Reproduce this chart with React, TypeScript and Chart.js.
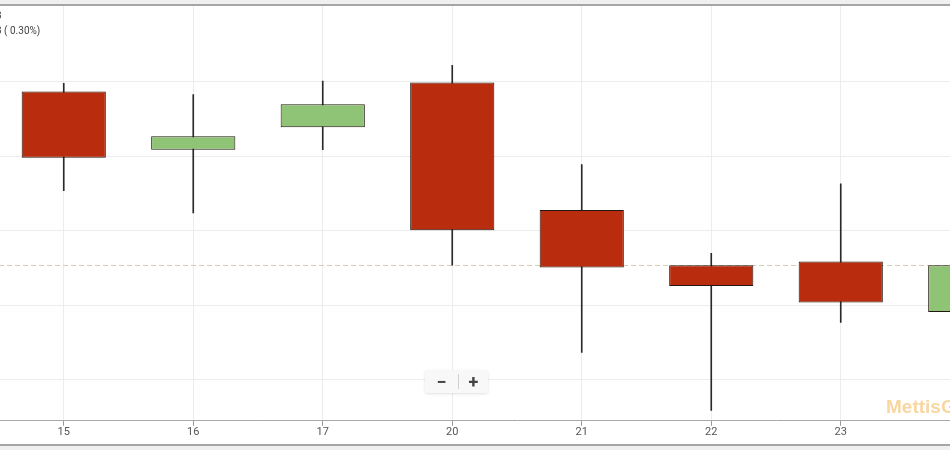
import React, { useEffect, useRef } from "react";
import { Chart, registerables } from "chart.js";

Chart.register(...registerables);

// Trading days shown on the x axis (last one is only partly visible)
const labels = ["15", "16", "17", "20", "21", "22", "23", "24"];
const opens = [13.87, 13.09, 13.39, 13.99, 12.28, 11.54, 11.59, 10.91];
const closes = [12.98, 13.27, 13.7, 12.01, 11.51, 11.26, 11.04, 11.54];
const highs = [13.98, 13.83, 14.01, 14.22, 12.89, 11.7, 12.63, 11.62];
const lows = [12.54, 12.24, 13.09, 11.54, 10.37, 9.59, 10.77, 10.8];
const yTicks = [10, 11, 12, 13, 14];
const lastPrice = 11.54;
const yMin = 9.4515;
const yMax = 15.0175;

const RED = "#b92c0d";
const GREEN = "#8fc477";
const EDGE = "#22160f";

const priceLine = {
  id: "priceLine",
  beforeDatasetsDraw(chart: any) {
    const { ctx, chartArea, scales } = chart;
    const y = Math.round(scales.y.getPixelForValue(lastPrice)) + 0.5;
    ctx.save();
    ctx.strokeStyle = "#dacfb6";
    ctx.lineWidth = 1;
    ctx.setLineDash([5, 3]);
    ctx.beginPath();
    ctx.moveTo(chartArea.left, y);
    ctx.lineTo(chartArea.right, y);
    ctx.stroke();
    ctx.restore();
  },
};

export default function App() {
  const canvasRef = useRef<HTMLCanvasElement | null>(null);

  useEffect(() => {
    if (!canvasRef.current) return;
    const colors = opens.map((o, i) => (closes[i] >= o ? GREEN : RED));
    const chart = new Chart(canvasRef.current, {
      type: "bar",
      data: {
        labels,
        datasets: [
          {
            label: "body",
            data: opens.map((o, i) => [o, closes[i]]) as any,
            backgroundColor: colors,
            borderColor: EDGE,
            borderWidth: 1,
            borderSkipped: false,
            barPercentage: 0.65,
            categoryPercentage: 1,
            grouped: false,
            order: 1,
          } as any,
          {
            label: "wick",
            data: lows.map((l, i) => [l, highs[i]]) as any,
            backgroundColor: "#2a2a2a",
            borderWidth: 0,
            barThickness: 1,
            grouped: false,
            order: 2,
          } as any,
        ],
      },
      options: {
        animation: false,
        responsive: true,
        maintainAspectRatio: false,
        layout: { padding: 0 },
        plugins: {
          legend: { display: false },
          tooltip: { enabled: false },
        },
        scales: {
          x: {
            grid: {
              offset: false,
              color: "#ececec",
              tickColor: "#9a9a9a",
              tickLength: 5,
            },
            border: { color: "#a8a8a8", width: 1 },
            ticks: {
              color: "#555",
              font: { family: "Roboto", size: 11 },
              padding: 0,
            },
          },
          y: {
            min: yMin,
            max: yMax,
            afterBuildTicks: (scale: any) => {
              scale.ticks = yTicks.map((v) => ({ value: v }));
            },
            grid: { color: "#ececec", drawTicks: false },
            border: { display: false },
            ticks: { display: false },
          },
        },
      },
      plugins: [priceLine],
    });
    return () => chart.destroy();
  }, []);

  return (
    <div
      style={{
        position: "absolute",
        left: 0,
        top: 0,
        width: 950,
        height: 450,
        overflow: "hidden",
        background: "#fff",
        fontFamily: "Roboto, sans-serif",
      }}
    >
      <div style={{ position: "absolute", left: 0, top: 0, width: 950, height: 4, background: "#f0f0f0" }} />
      <div style={{ position: "absolute", left: 0, top: 4, width: 950, height: 2, background: "#a6a6a6" }} />
      <div style={{ position: "absolute", left: -1, top: 6, width: 1036, height: 433 }}>
        <canvas ref={canvasRef} />
      </div>
      <div style={{ position: "absolute", left: 0, top: 444, width: 950, height: 2, background: "#a6a6a6" }} />
      <div style={{ position: "absolute", left: 0, top: 446, width: 950, height: 4, background: "#f0f0f0" }} />

      <div style={{ position: "absolute", left: -4, top: 10, fontSize: 10, color: "#444", whiteSpace: "nowrap" }}>3</div>
      <div style={{ position: "absolute", left: -4, top: 25, fontSize: 10, color: "#444", whiteSpace: "nowrap" }}>
        3 ( 0.30%)
      </div>

      <div
        style={{
          position: "absolute",
          left: 425,
          top: 370,
          width: 63,
          height: 23,
          background: "#f8f8f8",
          borderRadius: 2,
          boxShadow: "0 1px 3px rgba(0,0,0,0.12)",
          display: "flex",
          alignItems: "center",
          color: "#444",
          fontWeight: 700,
          fontSize: 18,
        }}
      >
        <div style={{ width: 33, textAlign: "center", lineHeight: "23px" }}>−</div>
        <div style={{ width: 1, height: 15, background: "#d0d0d0" }} />
        <div style={{ width: 29, textAlign: "center", lineHeight: "23px" }}>+</div>
      </div>

      <div
        style={{
          position: "absolute",
          left: 886,
          top: 396,
          fontSize: 19,
          fontWeight: 700,
          fontFamily: "'Liberation Sans', Arial, sans-serif",
          color: "#f8d6a0",
          whiteSpace: "nowrap",
        }}
      >
        MettisGlobal
      </div>
    </div>
  );
}
